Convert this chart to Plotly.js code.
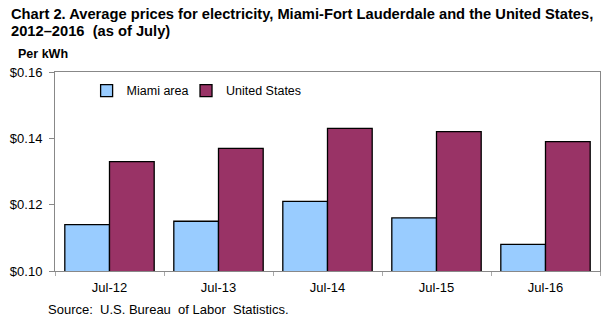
<!DOCTYPE html>
<html><head><meta charset="utf-8">
<script src="https://cdn.plot.ly/plotly-3.0.1.min.js"></script>
<style>html,body{margin:0;padding:0;background:#fff}#chart{width:607px;height:322px}</style>
</head><body><div id="chart"></div>
<script>
const categories = ["Jul-12", "Jul-13", "Jul-14", "Jul-15", "Jul-16"];
const miamiValues = [0.114, 0.115, 0.121, 0.116, 0.108];
const usValues = [0.133, 0.137, 0.143, 0.142, 0.139];
const yTickVals = [0.10, 0.12, 0.14, 0.16];
const yTickText = ["$0.10", "$0.12", "$0.14", "$0.16"];

const baseFont = "Liberation Sans, Arial, sans-serif";
const narrowFont = "Liberation Sans Narrow, Arial Narrow, Liberation Sans, Arial, sans-serif";

const traces = [
  {type: "bar", name: "Miami area", x: categories, y: miamiValues, legend: "legend",
   marker: {color: "#99ccff", line: {color: "#000", width: 1.3}}},
  {type: "bar", name: "United States", x: categories, y: usValues, legend: "legend2",
   marker: {color: "#993366", line: {color: "#000", width: 1.3}}}
];

const legendCommon = {orientation: "h", y: 0.98, xanchor: "left", yanchor: "top",
  bgcolor: "rgba(0,0,0,0)", font: {size: 12.5, family: baseFont}};

const layout = {
  width: 607, height: 322,
  margin: {l: 55, r: 7, t: 72, b: 51},
  paper_bgcolor: "#fff", plot_bgcolor: "#fff",
  font: {family: baseFont, size: 13, color: "#000"},
  bargap: 0.18, bargroupgap: 0,
  showlegend: true,
  legend: Object.assign({x: 0.058}, legendCommon),
  legend2: Object.assign({x: 0.2404}, legendCommon),
  xaxis: {type: "category", showline: true, linecolor: "#888", linewidth: 1, mirror: true,
          ticks: "outside", tickson: "boundaries", ticklen: 4, tickcolor: "#aaa",
          ticklabelstandoff: 4, showgrid: false, tickfont: {size: 13}},
  yaxis: {range: [0.10, 0.16], tickvals: yTickVals, ticktext: yTickText,
          showline: true, linecolor: "#888", linewidth: 1, mirror: true,
          ticks: "outside", ticklen: 5, tickcolor: "#888", ticklabelstandoff: 4,
          showgrid: false, zeroline: false, tickfont: {size: 13}},
  annotations: [
    {text: "<b>Chart 2. Average prices for electricity, Miami-Fort Lauderdale and the United States,</b>",
     xref: "paper", yref: "paper", x: -0.085, y: 1.2915, xanchor: "left", yanchor: "middle", align: "left",
     showarrow: false, font: {family: narrowFont, size: 14.7}},
    {text: "<b>2012–2016  (as of July)</b>",
     xref: "paper", yref: "paper", x: -0.085, y: 1.206, xanchor: "left", yanchor: "middle", align: "left",
     showarrow: false, font: {family: narrowFont, size: 14.7}},
    {text: "<b>Per kWh</b>", xref: "paper", yref: "paper", x: -0.072, y: 1.0905,
     xanchor: "left", yanchor: "middle", showarrow: false, font: {family: baseFont, size: 12.5}},
    {text: "Source:  U.S. Bureau  of Labor  Statistics.", xref: "paper", yref: "paper", x: -0.016, y: -0.191,
     xanchor: "left", yanchor: "middle", showarrow: false, font: {size: 13}}
  ]
};

Plotly.newPlot("chart", traces, layout, {displayModeBar: false, staticPlot: true});
</script></body></html>
